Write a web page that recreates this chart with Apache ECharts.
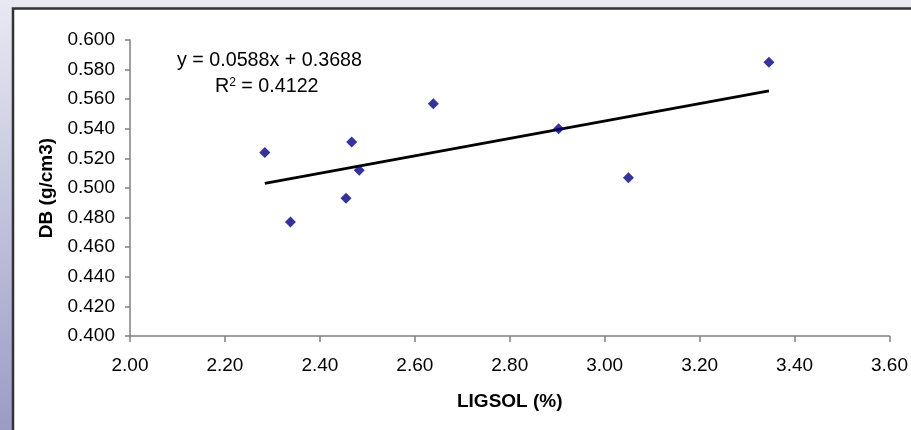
<!DOCTYPE html>
<html>
<head>
<meta charset="utf-8">
<script src="https://cdn.jsdelivr.net/npm/echarts@6/dist/echarts.min.js"></script>
<style>
html,body{margin:0;padding:0;width:911px;height:430px;overflow:hidden;}
#c{width:911px;height:430px;}
</style>
</head>
<body>
<div id="c"></div>
<script>
var ligsol = [2.284, 2.338, 2.455, 2.467, 2.483, 2.639, 2.903, 3.050, 3.346];
var db     = [0.524, 0.477, 0.493, 0.531, 0.512, 0.557, 0.540, 0.507, 0.585];
var trendSlope = 0.0588;
var trendIntercept = 0.3688;
var rSquared = 0.4122;
var xTitle = 'LIGSOL (%)';
var yTitle = 'DB (g/cm3)';

var pts = ligsol.map(function(x, i){ return [x, db[i]]; });
var xMin = Math.min.apply(null, ligsol), xMax = Math.max.apply(null, ligsol);
var trend = [[xMin, trendSlope*xMin + trendIntercept], [xMax, trendSlope*xMax + trendIntercept]];

var chart = echarts.init(document.getElementById('c'));
var font = '"Liberation Sans", Arial, sans-serif';
chart.setOption({
  animation: false,
  backgroundColor: {type:'linear', x:0, y:0, x2:0, y2:1, colorStops:[{offset:0,color:'#e9e9f2'},{offset:1,color:'#9a9cc6'}]},
  graphic: [
    {type:'rect', z:-10, shape:{x:13, y:8.5, width:1000, height:600}, style:{fill:'#ffffff', stroke:'#333333', lineWidth:2.5}},
    {type:'text', z:10, left:177, top:51, style:{text:'y = ' + trendSlope.toFixed(4) + 'x + ' + trendIntercept.toFixed(4), font:'19.7px ' + font, fill:'#000'}},
    {type:'text', z:10, left:215, top:77, style:{text:'{r|R}{s|2}{r| = ' + rSquared.toFixed(4) + '}', font:'19.7px ' + font, fill:'#000',
      rich:{r:{fontSize:19.7, fontFamily:font, color:'#000', verticalAlign:'bottom'}, s:{fontSize:12, fontFamily:font, color:'#000', verticalAlign:'top', padding:[0,0,6,0]}}}}
  ],
  grid: {left:130, right:21, top:40, bottom:94, containLabel:false},
  xAxis: {
    type:'value', min:2, max:3.6, interval:0.2,
    name: xTitle, nameLocation:'middle', nameGap:56,
    nameTextStyle:{fontSize:19, fontWeight:'bold', fontFamily:font, color:'#000'},
    axisLine:{onZero:false, lineStyle:{color:'#808080', width:1.5}},
    axisTick:{show:true, length:6, inside:false, lineStyle:{color:'#808080', width:1.5}},
    axisLabel:{fontSize:19, fontFamily:font, color:'#000', margin:20, formatter:function(v){return v.toFixed(2);}},
    splitLine:{show:false}
  },
  yAxis: {
    type:'value', min:0.4, max:0.6, interval:0.02,
    name: yTitle, nameLocation:'middle', nameGap:73, nameRotate:90,
    nameTextStyle:{fontSize:19, fontWeight:'bold', fontFamily:font, color:'#000'},
    axisLine:{show:true, onZero:false, lineStyle:{color:'#808080', width:1.5}},
    axisTick:{show:true, length:5, lineStyle:{color:'#808080', width:1.5}},
    axisLabel:{fontSize:19, fontFamily:font, color:'#000', margin:15, formatter:function(v){return v.toFixed(3);}},
    splitLine:{show:false}
  },
  series: [
    {type:'line', data:trend, showSymbol:false, symbol:'none', lineStyle:{color:'#000', width:2.8}, z:2, silent:true},
    {type:'scatter', data:pts, symbol:'diamond', symbolSize:11, itemStyle:{color:'#000080'}, z:3}
  ]
});
</script>
</body>
</html>
